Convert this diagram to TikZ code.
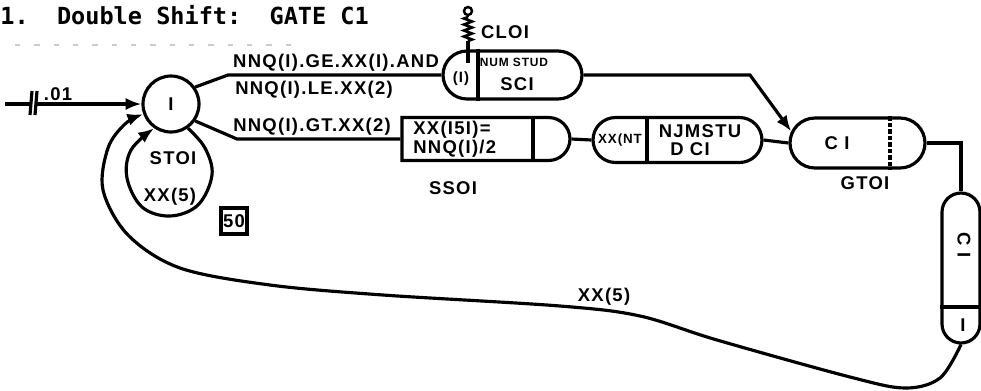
\documentclass[tikz,border=0pt]{standalone}
\usepackage{fontspec}
\usepackage{graphicx}
\usetikzlibrary{shapes.misc,arrows.meta}
\newfontfamily\labfont[LetterSpace=7]{Liberation Sans}
\newfontfamily\ttlfont{DejaVu Sans Mono}
\begin{document}
\begin{tikzpicture}[x=0.02cm,y=-0.02cm,
  ln/.style={line width=1.8pt},
  arr/.style={ln,-{Latex[length=9pt,width=7pt]}},
  box/.style={draw,line width=1.8pt,inner sep=0pt},
  rr/.style={box,rounded rectangle},
  lbl/.style={font=\labfont\bfseries\fontsize{10.5}{12}\selectfont,inner sep=0pt},
  lblm/.style={font=\labfont\bfseries\fontsize{8.5}{10}\selectfont,inner sep=0pt},
  slbl/.style={font=\labfont\bfseries\fontsize{6.8}{8}\selectfont,inner sep=0pt},
  ttl/.style={font=\ttlfont\bfseries\fontsize{13.4}{15}\selectfont,inner sep=0pt}]
\useasboundingbox (0,0) rectangle (981,390);

% title
\node[ttl,anchor=west] (title) at (0,15) {1.~~Double Shift:~~GATE C1};
\draw[gray!40,line width=0.8pt,dash pattern=on 3pt off 8pt] (15,45) -- (300,45);

% circle I
\node[circle,draw,line width=1.8pt,minimum size=1.12cm,inner sep=0pt,font=\labfont\bfseries\fontsize{10.5}{12}\selectfont] (I) at (171,104) {I};

% input
\coordinate (in0) at (5,104);
\coordinate (b1) at (31,104);
\coordinate (b2) at (36,104);
\draw[ln] (in0) -- (b1);
\draw[ln] ([shift={(1,-13)}]b1) -- ([shift={(-1,11)}]b1);
\draw[ln] ([shift={(1,-13)}]b2) -- ([shift={(-1,11)}]b2);
\draw[arr] (b2) -- (I.west);
\node[lbl] (d01) at (58,94) {.01};

% top node and branch
\node[rr,minimum width=2.78cm,minimum height=0.96cm] (TN) at (512.5,75) {};
\coordinate (tb) at (228,75);
\draw[ln] (I.35) -- (tb) -- (TN.west);
\node[lbl] (ge) at (336,63) {NNQ(I).GE.XX(I).AND};
\node[lbl] (le) at (314,90) {NNQ(I).LE.XX(2)};
\coordinate (dTN) at (478,0);
\draw[ln] (dTN |- TN.north) -- (dTN |- TN.south);
\node[lblm] (tnI) at (461,79) {(I)};
\node[slbl] (tnN) at (514,62) {NUM STUD};
\node[lbl] (tnS) at (517,84) {SCI};

% CLO
\coordinate (clo0) at (468,63);
\coordinate (clo1) at (468,41);
\node[circle,draw,line width=1.4pt,minimum size=0.16cm,inner sep=0pt] (cloc) at (468,11) {};
\draw[ln] (clo0) -- (clo1);
\draw[line width=1.5pt] (clo1) -- ++(4,-1.5) -- ++(-8,-3) -- ++(8,-3) -- ++(-8,-3) -- ++(8,-3) -- ++(-8,-3) -- ++(8,-3) -- ++(-8,-3) -- ++(4,-1.5) coordinate (clo2);
\draw[line width=1.4pt] (clo2) -- (cloc.south);
\node[lbl] (clo) at (505,32) {CLOI};

% middle branch
\node[rr,rounded rectangle west arc=none,minimum width=3.36cm,minimum height=0.86cm] (SSO) at (486,139) {};
\coordinate (mb) at (237,139);
\draw[ln] (I.-35) -- (mb) -- (SSO.west);
\node[lbl] (gt) at (312,127) {NNQ(I).GT.XX(2)};
\coordinate (dSSO) at (533,0);
\draw[ln] (dSSO |- SSO.north) -- (dSSO |- SSO.south);
\node[lbl,anchor=west] (s1) at (413,130) {XX(I5I)=};
\node[lbl,anchor=west] (s2) at (413,149) {NNQ(I)/2};
\node[lbl] (ssoL) at (453,188) {SSOI};

% NJ node
\node[rr,minimum width=3.38cm,minimum height=0.9cm] (NJ) at (677.5,140) {};
\draw[ln] (SSO.east) -- (NJ.west);
\coordinate (dNJ) at (647,0);
\draw[ln] (dNJ |- NJ.north) -- (dNJ |- NJ.south);
\node[font=\labfont\bfseries\fontsize{7.6}{9}\selectfont,inner sep=0pt] (nx) at (620,140) {XX(NT};
\node[lbl] (nj1) at (700,131) {NJMSTU};
\node[lbl] (nj2) at (690,149) {D CI};

% GTO node
\node[rr,minimum width=2.7cm,minimum height=1.0cm] (G) at (857.5,143) {};
\draw[ln] (NJ.east) -- (G.west);
\coordinate (dG) at (890,0);
\draw[line width=1.8pt,dash pattern=on 2.5pt off 1.2pt] (dG |- G.north) -- (dG |- G.south);
\node[lbl] (gc) at (837,143) {C I};
\node[lbl] (gl) at (865,183) {GTOI};

% top node to GTO
\coordinate (tr) at (750,75);
\draw[arr] (TN.east) -- (tr) -- (G.170);

% vertical node
\node[draw,line width=1.8pt,rectangle,rounded corners=0.38cm,minimum width=0.76cm,minimum height=3cm,inner sep=0pt] (VN) at (961,268) {};
\coordinate (gv) at (961,143);
\draw[ln] (G.east) -- (gv) -- (VN.north);
\coordinate (dVN) at (0,307);
\draw[ln] (VN.west |- dVN) -- (VN.east |- dVN);
\node[lbl,rotate=-90] (vc) at (964,245) {C I};
\node[lbl] (vi) at (963,325) {I};

% feedback curve
\coordinate (p1) at (940,378);
\coordinate (p2) at (905,388);
\coordinate (p3) at (850,377);
\coordinate (p4) at (717,340);
\coordinate (p5) at (640,316);
\coordinate (p6) at (560,306);
\coordinate (p7) at (383,295);
\coordinate (p8) at (270,285);
\coordinate (p9) at (180,268);
\coordinate (p10) at (128,235);
\coordinate (p11) at (103,190);
\coordinate (p12) at (108,148);
\coordinate (p13) at (125,124);
\draw[arr] plot[smooth,tension=0.55] coordinates {(VN.south) (p1) (p2) (p3) (p4) (p5) (p6) (p7) (p8) (p9) (p10) (p11) (p12) (p13) (I.200)};
\node[lbl] (xx5b) at (604,297) {XX(5)};

% self loop
\coordinate (q1) at (205,148);
\coordinate (q2) at (212,175);
\coordinate (q3) at (198,205);
\coordinate (q4) at (170,216);
\coordinate (q5) at (142,207);
\coordinate (q6) at (127,178);
\coordinate (q7) at (131,150);
\draw[arr] plot[smooth,tension=0.6] coordinates {(I.-55) (q1) (q2) (q3) (q4) (q5) (q6) (q7) (I.-125)};
\node[lbl] (sto) at (173,158) {STOI};
\node[lbl] (xx5a) at (170,197) {XX(5)};
\node[lbl,draw,line width=1.8pt,minimum size=0.52cm] (b50) at (234,221) {50};
\end{tikzpicture}
\end{document}
